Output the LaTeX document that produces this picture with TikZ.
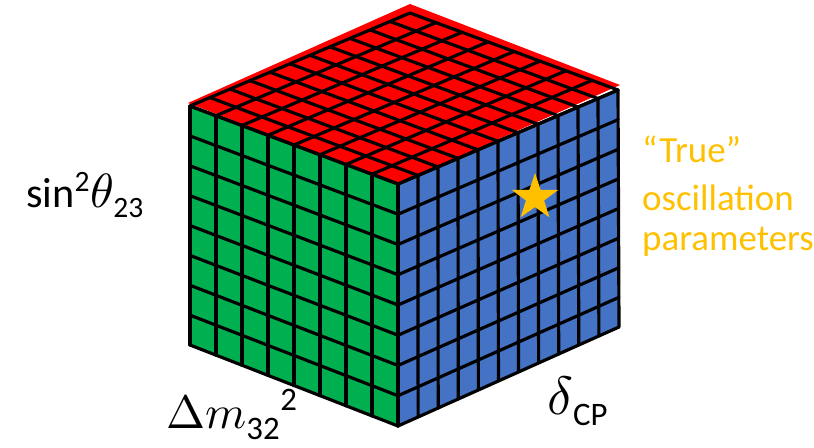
\documentclass[tikz,border=0pt]{standalone}
\usepackage{amsmath}
\usepackage{fontspec}
\usepackage{unicode-math}
\setmainfont{Carlito}
\setmathfont{Latin Modern Math}
\usetikzlibrary{calc}
\definecolor{cubered}{HTML}{FF0000}
\definecolor{cubegreen}{HTML}{00B050}
\definecolor{cubeblue}{HTML}{4472C4}
\definecolor{gold}{HTML}{FFC000}
\begin{document}
\begin{tikzpicture}[x=0.03cm,y=-0.03cm,
  gridline/.style={line width=2.7pt, black, line cap=round, line join=round},
  lbl/.style={inner sep=0pt, font=\fontsize{36}{43}\selectfont, text=black},
  biglbl/.style={inner sep=0pt, font=\fontsize{40}{48}\selectfont, text=black},
  gtxt/.style={inner sep=0pt, font=\fontsize{31.5}{38}\selectfont, text=gold}]
\useasboundingbox (0,0) rectangle (814,447);
% corners
\coordinate (L) at (190,106);
\coordinate (F) at (398,184);
\coordinate (R) at (618,90);
\coordinate (B) at (410,13);
\coordinate (LB) at (190,345);
\coordinate (FB) at (398,426);
\coordinate (RB) at (619,327);
% faces
\fill[cubered] (188,103) -- (410,4) -- (620,85) -- (F) -- cycle;
\fill[cubegreen] (L) -- (F) -- (FB) -- (LB) -- cycle;
\fill[cubeblue] (F) -- (R) -- (RB) -- (FB) -- cycle;
% green grid 8x8
\foreach \i in {0,...,8} {
  \draw[gridline] ($(L)!\i/8!(F)$) -- ($(LB)!\i/8!(FB)$);
  \draw[gridline] ($(L)!\i/8!(LB)$) -- ($(F)!\i/8!(FB)$);
}
% blue grid 11 x 8
\foreach \i in {0,...,11} {
  \draw[gridline] ($(F)!\i/11!(R)$) -- ($(FB)!\i/11!(RB)$);
}
\foreach \j in {0,...,8} {
  \draw[gridline] ($(F)!\j/8!(FB)$) -- ($(R)!\j/8!(RB)$);
}
% top grid
\foreach \i in {0,...,8} {
  \draw[gridline] ($(L)!\i/8!(F)$) -- ($(B)!\i/8!(R)$);
}
\foreach \j in {0,...,11} {
  \draw[gridline] ($(L)!\j/11!(B)$) -- ($(F)!\j/11!(R)$);
}
% star
\fill[gold, shift={(535,197.5)}]
  (0,-24.5) -- (5.6,-7.7) -- (23.3,-7.6) -- (9.1,3.0) -- (14.4,19.8) -- (0,9.6)
  -- (-14.4,19.8) -- (-9.1,3.0) -- (-23.3,-7.6) -- (-5.6,-7.7) -- cycle;
% labels
\node[lbl, anchor=base west] (sinlbl) at (26,207) {sin\textsuperscript{2}{\fontsize{41}{48}\selectfont$\theta$}\textsubscript{23}};
\node[biglbl, anchor=base west] (dmlbl) at (166,428) {$\Delta m_{\text{32}}{}^{\text{2}}$};
\node[biglbl, anchor=base west] (dcplbl) at (547,414) {{\fontsize{46}{52}\selectfont$\delta$}\textsubscript{CP}};
\node[gtxt, anchor=base west] (t1) at (642,162) {“True”};
\node[gtxt, anchor=base west] (t2) at (642,210) {oscillation};
\node[gtxt, anchor=base west] (t3) at (642,250) {parameters};
\end{tikzpicture}
\end{document}
